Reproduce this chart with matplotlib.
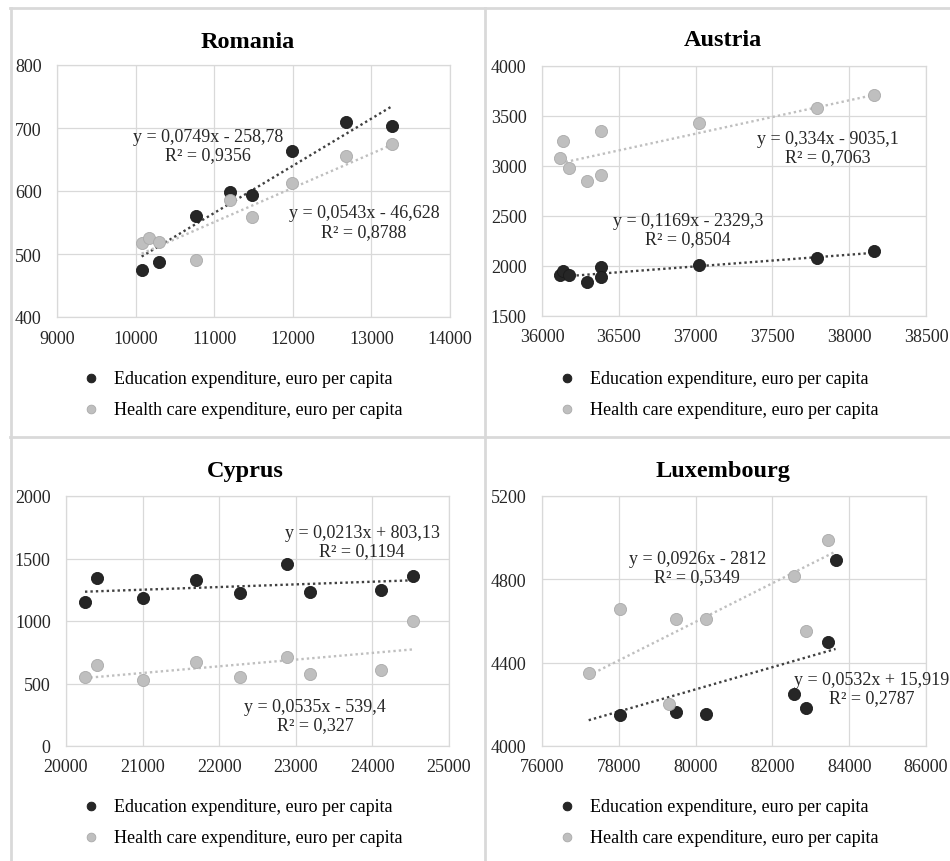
import numpy as np
import matplotlib
matplotlib.use("Agg")
import matplotlib.pyplot as plt
from matplotlib.lines import Line2D

plt.rcParams["font.family"] = ["Liberation Serif", "DejaVu Serif"]

EDU_LABEL = "Education expenditure, euro per capita"
HEALTH_LABEL = "Health care expenditure, euro per capita"

# --- data (x = GDP per capita, y = expenditure per capita) ---
ro_edu_x = [10077, 10302, 10768, 11201, 11477, 11994, 12673, 13258]
ro_edu_y = [475, 488, 561, 598, 593, 663, 710, 703]
ro_hc_x = [10077, 10174, 10302, 10768, 11201, 11477, 11994, 12673, 13258]
ro_hc_y = [517, 525, 519, 490, 586, 559, 612, 656, 674]
ro_trend = [(0.0749, -258.78, 0.9356), (0.0543, -46.628, 0.8788)]

at_x = [36119, 36136, 36175, 36294, 36385, 36385, 37022, 37792, 38160]
at_edu_y = [1906, 1955, 1906, 1839, 1989, 1889, 2012, 2085, 2155]
at_hc_y = [3076, 3252, 2976, 2853, 3352, 2910, 3435, 3584, 3707]
at_trend = [(0.1169, -2329.3, 0.8504), (0.334, -9035.1, 0.7063)]

cy_x = [20248, 20400, 21009, 21696, 22270, 22887, 23191, 24109, 24530]
cy_edu_y = [1155, 1342, 1187, 1332, 1225, 1457, 1235, 1251, 1364]
cy_hc_y = [556, 652, 529, 676, 556, 714, 575, 610, 1003]
cy_trend = [(0.0213, 803.13, 0.1194), (0.0535, -539.4, 0.327)]

lu_edu_x = [78024, 79484, 80283, 82560, 82872, 83454, 83645]
lu_edu_y = [4147, 4163, 4155, 4251, 4182, 4501, 4891]
lu_hc_x = [77216, 78024, 79301, 79484, 80283, 82560, 82872, 83454]
lu_hc_y = [4352, 4656, 4200, 4608, 4608, 4816, 4552, 4990]
lu_trend = [(0.0532, 15.919, 0.2787), (0.0926, -2812, 0.5349)]

W, H = 950, 862
EDU_C, HC_C = "#262626", "#bfbfbf"
EDU_LINE, HC_LINE = "#404040", "#bfbfbf"
GRID_C = "#d9d9d9"
FS = 13


def px_rect(l, t, r, b):
    return [l / W, 1 - b / H, (r - l) / W, (b - t) / H]


def eq_text(slope, icpt, r2):
    sign = "+" if icpt >= 0 else "-"
    s = f"y = {slope}x {sign} {abs(icpt):g}\nR² = {r2}"
    return s.replace(".", ",")


panels = [
    dict(title="Romania", rect=(57, 66, 450, 318), title_xy=(248, 42),
         edu=(ro_edu_x, ro_edu_y), hc=(ro_hc_x, ro_hc_y), trend=ro_trend,
         xlim=(9000, 14000), xstep=1000, ylim=(400, 800), ystep=100,
         eq_pos=[(0.384, 0.68), (0.781, 0.377)], leg=(73, 395)),
    dict(title="Austria", rect=(542, 67, 926, 317), title_xy=(723, 40),
         edu=(at_x, at_edu_y), hc=(at_x, at_hc_y), trend=at_trend,
         xlim=(36000, 38500), xstep=500, ylim=(1500, 4000), ystep=500,
         eq_pos=[(0.38, 0.345), (0.745, 0.673)], leg=(549, 395)),
    dict(title="Cyprus", rect=(66, 497, 449, 747), title_xy=(245, 472),
         edu=(cy_x, cy_edu_y), hc=(cy_x, cy_hc_y), trend=cy_trend,
         xlim=(20000, 25000), xstep=1000, ylim=(0, 2000), ystep=500,
         eq_pos=[(0.773, 0.818), (0.65, 0.122)], leg=(73, 823)),
    dict(title="Luxembourg", rect=(542, 497, 926, 747), title_xy=(723, 472),
         edu=(lu_edu_x, lu_edu_y), hc=(lu_hc_x, lu_hc_y), trend=lu_trend,
         xlim=(76000, 86000), xstep=2000, ylim=(4000, 5200), ystep=400,
         eq_pos=[(0.859, 0.23), (0.404, 0.714)], leg=(549, 823)),
]

fig = plt.figure(figsize=(W / 100, H / 100), dpi=100)

# panel frames
for xs, ys in [((10, 950), (9, 9)), ((10.5, 10.5), (9, 862)),
               ((484.5, 484.5), (9, 862)), ((10, 950), (438, 438))]:
    fig.add_artist(Line2D([x / W for x in xs], [1 - y / H for y in ys],
                          color=GRID_C, lw=2))

for p in panels:
    ax = fig.add_axes(px_rect(*p["rect"]))
    ax.set_xlim(*p["xlim"])
    ax.set_ylim(*p["ylim"])
    ax.set_xticks(np.arange(p["xlim"][0], p["xlim"][1] + 1, p["xstep"]))
    ax.set_yticks(np.arange(p["ylim"][0], p["ylim"][1] + 1, p["ystep"]))
    ax.grid(True, color=GRID_C, lw=0.9)
    ax.set_axisbelow(True)
    for s in ax.spines.values():
        s.set_color(GRID_C)
        s.set_linewidth(0.9)
    ax.tick_params(length=0, labelsize=FS, labelcolor="#262626")
    ax.tick_params(axis="y", pad=11)
    ax.tick_params(axis="x", pad=9)

    ex, ey = p["edu"]
    hx, hy = p["hc"]
    ax.scatter(ex, ey, s=76, color=EDU_C, edgecolor="#1a1a1a", lw=0.6,
               zorder=3, label=EDU_LABEL, clip_on=False)
    ax.scatter(hx, hy, s=76, color=HC_C, edgecolor="#aaaaaa", lw=0.6,
               zorder=3, label=HEALTH_LABEL, clip_on=False)

    x0 = min(min(ex), min(hx))
    x1 = max(max(ex), max(hx))
    xx = np.array([x0, x1])
    for (slope, icpt, r2), col, pos in zip(p["trend"], [EDU_LINE, HC_LINE], p["eq_pos"]):
        ax.plot(xx, slope * xx + icpt, color=col, lw=1.7,
                linestyle=(0, (1, 1.3)), zorder=2)
        ax.text(pos[0], pos[1], eq_text(slope, icpt, r2), transform=ax.transAxes,
                ha="center", va="center", fontsize=FS, color="#262626",
                linespacing=1.1, zorder=4)

    fig.text(p["title_xy"][0] / W, 1 - p["title_xy"][1] / H, p["title"],
             ha="center", va="center", fontsize=17.5, fontweight="bold")

    h, l = ax.get_legend_handles_labels()
    fig.legend(h, l, loc="center left",
               bbox_to_anchor=(p["leg"][0] / W, 1 - p["leg"][1] / H),
               frameon=False, fontsize=FS, handlelength=1, handletextpad=0.75,
               labelspacing=0.8, borderpad=0, markerscale=0.72)

fig.savefig("out.png", dpi=100)
